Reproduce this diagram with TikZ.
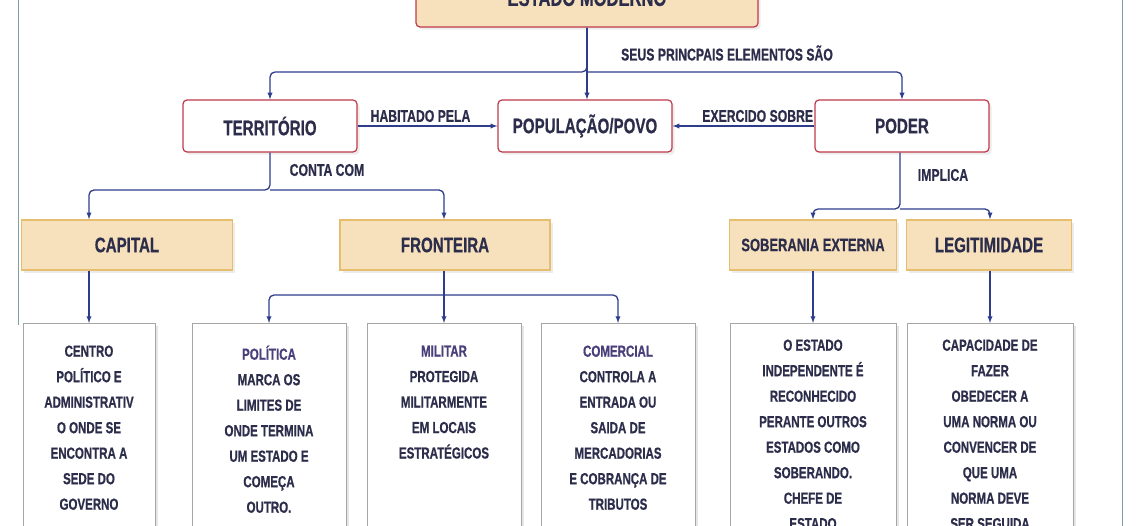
\documentclass[tikz,border=0pt]{standalone}
\usepackage{fontspec}
\setmainfont{Liberation Sans}
\newfontfamily\cond{Liberation Sans}[FakeStretch=0.72,FakeBold=0.6]
\usetikzlibrary{positioning,arrows,shadows}
\definecolor{ink}{HTML}{2B2D4A}
\definecolor{arrowblue}{HTML}{2E3C8C}
\definecolor{boxred}{HTML}{C0394A}
\definecolor{sand}{HTML}{F7E1BD}
\definecolor{sandline}{HTML}{E6BE6E}
\definecolor{kind}{HTML}{4A3F7A}
\definecolor{frame}{HTML}{7FA0A0}
\begin{document}
\begin{tikzpicture}[x=1pt,y=-1pt,>=latex,
  every node/.style={text=ink,font=\cond\bfseries},
  mainbox/.style={draw=boxred,line width=1.2pt,rounded corners=4pt,fill=white,minimum width=174pt,minimum height=52pt,font=\cond\bfseries\fontsize{21}{23}\selectfont,drop shadow={opacity=0.15}},
  headbox/.style={draw=sandline,line width=1.5pt,fill=sand,minimum height=50pt,font=\cond\bfseries\fontsize{21}{23}\selectfont,drop shadow={opacity=0.15}},
  descbox/.style={draw=gray!70,line width=0.8pt,fill=white,minimum height=240pt,anchor=north,drop shadow={opacity=0.2}},
  desctext/.style={anchor=north,align=center,font=\cond\bfseries\fontsize{16}{25.5}\selectfont},
  lbl/.style={font=\cond\bfseries\fontsize{17}{19}\selectfont},
  link/.style={->,draw=arrowblue,line width=1.3pt,rounded corners=5pt}]
\useasboundingbox (0,0) rectangle (1140,526);
\draw[frame,line width=0.8pt] (18,0) -- (18,325);
\draw[frame,line width=0.8pt] (1122,0) -- (1122,526);
% top
\node[mainbox,fill=sand,minimum width=342pt,minimum height=70pt,text depth=0pt] (estado) at (587,-8) {};
\node at (587,-2) [font=\cond\bfseries\fontsize{23}{25}\selectfont] {ESTADO MODERNO};
% elements
\node[mainbox] (terr) at (270,126) {TERRITÓRIO};
\node[mainbox] (pop) at (585,126) {POPULAÇÃO/POVO};
\node[mainbox] (poder) at (902,126) {PODER};
% headers
\node[headbox,minimum width=211pt] (capital) at (127,245) {CAPITAL};
\node[headbox,minimum width=210pt] (fronteira) at (445,245) {FRONTEIRA};
\node[headbox,minimum width=167pt,font=\cond\bfseries\fontsize{18}{20}\selectfont] (soberania) at (813,245) {SOBERANIA EXTERNA};
\node[headbox,minimum width=165pt] (legit) at (989,245) {LEGITIMIDADE};
% description boxes
\node[descbox,minimum width=132pt] (dcap) at (89,323) {};
\node[descbox,minimum width=154pt] (dpol) at (269,323) {};
\node[descbox,minimum width=154pt] (dmil) at (444,323) {};
\node[descbox,minimum width=154pt] (dcom) at (618,323) {};
\node[descbox,minimum width=166pt] (dsob) at (813,323) {};
\node[descbox,minimum width=166pt] (dleg) at (990,323) {};
\node[desctext] at (89,342) {CENTRO\\POLÍTICO E\\ADMINISTRATIV\\O ONDE SE\\ENCONTRA A\\SEDE DO\\GOVERNO};
\node[desctext] at (269,342) {\textcolor{kind}{POLÍTICA}\\MARCA OS\\LIMITES DE\\ONDE TERMINA\\UM ESTADO E\\COMEÇA\\OUTRO.};
\node[desctext] at (444,342) {\textcolor{kind}{MILITAR}\\PROTEGIDA\\MILITARMENTE\\EM LOCAIS\\ESTRATÉGICOS};
\node[desctext] at (618,342) {\textcolor{kind}{COMERCIAL}\\CONTROLA A\\ENTRADA OU\\SAIDA DE\\MERCADORIAS\\E COBRANÇA DE\\TRIBUTOS};
\node[desctext] at (813,336) {O ESTADO\\INDEPENDENTE É\\RECONHECIDO\\PERANTE OUTROS\\ESTADOS COMO\\SOBERANDO.\\CHEFE DE\\ESTADO};
\node[desctext] at (990,336) {CAPACIDADE DE\\FAZER\\OBEDECER A\\UMA NORMA OU\\CONVENCER DE\\QUE UMA\\NORMA DEVE\\SER SEGUIDA};
% connectors
\coordinate (split) at (587,72);
\draw[link] (estado.south -| split) -- (split) -| (terr.north);
\draw[link] (split) -| (poder.north);
\draw[link] (estado.south -| split) -- (pop.north -| split);
\node[lbl] at (727,53) {SEUS PRINCPAIS ELEMENTOS SÃO};
\draw[link] (terr) -- node[lbl,above,pos=0.45] {HABITADO PELA} (pop);
\draw[link] (poder) -- node[lbl,above,pos=0.4] {EXERCIDO SOBRE} (pop);
\coordinate (tsplit) at (270,190);
\draw[link] (terr.south) -- (tsplit) -| (capital.north -| dcap);
\draw[link] (tsplit) -| (fronteira.north -| dmil);
\node[lbl] at (327,170) {CONTA COM};
\coordinate (psplit) at (900,209);
\draw[link] (poder.south -| psplit) -- (psplit) -| (soberania.north -| dsob);
\draw[link] (psplit) -| (legit.north -| dleg);
\node[lbl] at (943,175) {IMPLICA};
\draw[link] (capital.south -| dcap) -- (dcap.north);
\draw[link] (fronteira.south -| dmil) -- (dmil.north);
\coordinate (fsplit) at (444,295);
\draw[link] (fsplit) -| (dpol.north);
\draw[link] (fsplit) -| (dcom.north);
\draw[link] (soberania.south -| dsob) -- (dsob.north);
\draw[link] (legit.south -| dleg) -- (dleg.north);
\end{tikzpicture}
\end{document}
